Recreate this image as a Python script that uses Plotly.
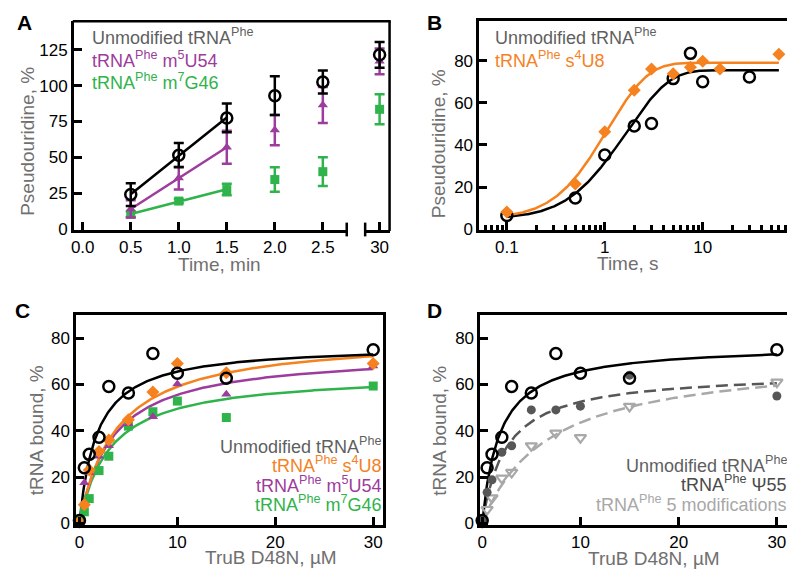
import numpy as np
import plotly.graph_objects as go

W, H = 795, 579
OFF = 8  # page body margin of the browser
FONT = "Liberation Sans, Arial, Helvetica, sans-serif"

# ---------------- Data ----------------
# Panel A: pseudouridine formation, multiple turnover (time, min)
a_time = [0.5, 1.0, 1.5, 2.0, 2.5]
a_time_long = [30]
a_unmod = [24, 51.5, 77.5, 93, 102.5]
a_unmod_err = [8, 8.5, 10, 13.5, 8]
a_unmod_30 = [121.5]
a_unmod_30_err = [9]
a_m5u54 = [14, 35.5, 57, 69, 86.5]
a_m5u54_err = [6, 8, 11.5, 10.5, 12.5]
a_m5u54_30 = [117]
a_m5u54_30_err = [9]
a_m7g46 = [10.3, 19.5, 27.5, 34.5, 40]
a_m7g46_err = [2, 1.5, 4, 8.5, 10]
a_m7g46_30 = [83.5]
a_m7g46_30_err = [10.5]

# Panel B: single turnover (time, s)
b_time_unmod = [0.1, 0.5, 1, 2, 3, 5, 7.5, 10, 30]
b_unmod = [6.5, 14.8, 35.2, 49, 50.2, 71.5, 83.5, 70, 72.3]
b_time_s4u8 = [0.1, 0.5, 1, 2, 3, 5, 7.5, 10, 15, 60]
b_s4u8 = [8.1, 21.4, 46.3, 66, 76.1, 73.8, 76.9, 79.7, 76.1, 83.1]
# fitted two-step parameters (y0, amplitude, k1, k2)
b_fit_unmod = (5.0, 70.5, 0.6, 5.0)
b_fit_s4u8 = (5.0, 74.0, 1.0, 5.0)

# Panels C and D: binding (TruB D48N, uM)
conc = [0, 0.5, 1, 2, 3, 5, 7.5, 10, 15, 30]
c_unmod = [1.2, 24, 29.8, 37.2, 59.1, 56.3, 73.3, 64.8, 62.7, 75]
c_s4u8 = [0.5, 8, 23, 31, 36, 44.7, 56.7, 69, 65, 69]
c_m5u54 = [1, 17.5, 22, 29, 33.5, 43, 46, 60.2, 55.8, 68]
c_m7g46 = [1.2, 5, 10.7, 22.8, 29, 42, 48.2, 52.8, 45.7, 59.3]
d_psi55 = [1.5, 13.4, 18.8, 30.7, 33.5, 49, 49, 50.6, 64, 55]
d_5mod = [0.5, 6, 11, 19.5, 22, 33.5, 39, 37, 50.5, 61]
# fitted hyperbola parameters (Bmax, Kd)
fit_unmod = (77.3, 1.79)
fit_s4u8 = (81.2, 3.75)
fit_m5u54 = (74.0, 3.33)
fit_m7g46 = (64.9, 3.11)
fit_psi55 = (65.5, 2.47)
fit_5mod = (72.8, 6.72)

# ---------------- Colours ----------------
BLACK = "#000000"
PURPLE = "#9c3c9c"
GREEN = "#2fb34b"
ORANGE = "#f5821f"
DGRAY = "#575757"
LGRAY = "#a8a8a8"
TXTGRAY = "#5f5f5f"
TITLEGRAY = "#707070"


def px(x):
    return (x - OFF) / W


def py(y):
    return 1 - (y - OFF) / H


def two_step(t, p):
    y0, amp, k1, k2 = p
    t = np.asarray(t, dtype=float)
    return y0 + amp * (1 - (k2 * np.exp(-k1 * t) - k1 * np.exp(-k2 * t)) / (k2 - k1))


def hyper(x, p):
    bmax, kd = p
    x = np.asarray(x, dtype=float)
    return bmax * x / (kd + x)


fig = go.Figure()

# ---------- Panel A ----------
for ys, col in [(a_unmod, BLACK), (a_m5u54, PURPLE), (a_m7g46, GREEN)]:
    coef = np.polyfit(a_time[:3], ys[:3], 1)
    xl = np.array([a_time[0], a_time[2]])
    fig.add_trace(go.Scatter(x=xl, y=np.polyval(coef, xl), mode="lines",
                             line=dict(color=col, width=2.5), xaxis="x", yaxis="y",
                             showlegend=False, hoverinfo="skip"))

a_series = [
    (a_m7g46, a_m7g46_err, a_m7g46_30, a_m7g46_30_err, GREEN, "square", 9, 0),
    (a_m5u54, a_m5u54_err, a_m5u54_30, a_m5u54_30_err, PURPLE, "triangle-up", 9, 0),
    (a_unmod, a_unmod_err, a_unmod_30, a_unmod_30_err, BLACK, "circle-open", 11, 2.5),
]
for ys, es, y30, e30, col, sym, sz, lw in a_series:
    mk = dict(symbol=sym, size=sz, color=col, line=dict(color=col, width=lw))
    eb = dict(type="data", array=es, color=col, thickness=2.5, width=5)
    fig.add_trace(go.Scatter(x=a_time, y=ys, mode="markers", marker=mk, error_y=eb,
                             xaxis="x", yaxis="y", showlegend=False, cliponaxis=False))
    eb30 = dict(type="data", array=e30, color=col, thickness=2.5, width=5)
    fig.add_trace(go.Scatter(x=a_time_long, y=y30, mode="markers", marker=mk, error_y=eb30,
                             xaxis="x2", yaxis="y", showlegend=False, cliponaxis=False))

# ---------- Panel B ----------
tt = np.logspace(-1, np.log10(60), 300)
fig.add_trace(go.Scatter(x=tt, y=two_step(tt, b_fit_unmod), mode="lines",
                         line=dict(color=BLACK, width=2.5), xaxis="x3", yaxis="y3",
                         showlegend=False, hoverinfo="skip"))
fig.add_trace(go.Scatter(x=tt, y=two_step(tt, b_fit_s4u8), mode="lines",
                         line=dict(color=ORANGE, width=2.5), xaxis="x3", yaxis="y3",
                         showlegend=False, hoverinfo="skip"))
fig.add_trace(go.Scatter(x=b_time_unmod, y=b_unmod, mode="markers",
                         marker=dict(symbol="circle-open", size=11, color=BLACK,
                                     line=dict(color=BLACK, width=2.5)),
                         xaxis="x3", yaxis="y3", showlegend=False, cliponaxis=False))
fig.add_trace(go.Scatter(x=b_time_s4u8, y=b_s4u8, mode="markers",
                         marker=dict(symbol="diamond", size=10, color=ORANGE),
                         xaxis="x3", yaxis="y3", showlegend=False, cliponaxis=False))

# ---------- Panel C ----------
xx = np.linspace(0, 30, 400)
for p, col in [(fit_m7g46, GREEN), (fit_m5u54, PURPLE), (fit_s4u8, ORANGE), (fit_unmod, BLACK)]:
    fig.add_trace(go.Scatter(x=xx, y=hyper(xx, p), mode="lines",
                             line=dict(color=col, width=2.5), xaxis="x4", yaxis="y4",
                             showlegend=False, hoverinfo="skip"))
for ys, col, sym, sz, lw in [(c_m7g46, GREEN, "square", 9, 0),
                             (c_m5u54, PURPLE, "triangle-up", 9, 0),
                             (c_s4u8, ORANGE, "diamond", 10, 0),
                             (c_unmod, BLACK, "circle-open", 11, 2.5)]:
    fig.add_trace(go.Scatter(x=conc, y=ys, mode="markers",
                             marker=dict(symbol=sym, size=sz, color=col,
                                         line=dict(color=col, width=lw)),
                             xaxis="x4", yaxis="y4", showlegend=False, cliponaxis=False))

# ---------- Panel D ----------
fig.add_trace(go.Scatter(x=xx, y=hyper(xx, fit_5mod), mode="lines",
                         line=dict(color=LGRAY, width=2.5, dash="12px,6px"), xaxis="x5", yaxis="y5",
                         showlegend=False, hoverinfo="skip"))
fig.add_trace(go.Scatter(x=xx, y=hyper(xx, fit_psi55), mode="lines",
                         line=dict(color=DGRAY, width=2.5, dash="12px,6px"), xaxis="x5", yaxis="y5",
                         showlegend=False, hoverinfo="skip"))
fig.add_trace(go.Scatter(x=xx, y=hyper(xx, fit_unmod), mode="lines",
                         line=dict(color=BLACK, width=2.5), xaxis="x5", yaxis="y5",
                         showlegend=False, hoverinfo="skip"))
for ys, col, sym, sz, lw in [(d_5mod, LGRAY, "triangle-down-open", 10, 2.2),
                             (d_psi55, DGRAY, "circle", 9, 0),
                             (c_unmod, BLACK, "circle-open", 11, 2.5)]:
    fig.add_trace(go.Scatter(x=conc, y=ys, mode="markers",
                             marker=dict(symbol=sym, size=sz, color=col,
                                         line=dict(color=col, width=lw)),
                             xaxis="x5", yaxis="y5", showlegend=False, cliponaxis=False))

# ---------------- Axes ----------------
tickfont = dict(family=FONT, size=17, color="black")
common = dict(showgrid=False, zeroline=False, showline=True, linecolor="black", linewidth=2.5,
              ticks="inside", ticklen=8, tickwidth=2.5, tickcolor="black", tickfont=tickfont)

a_ylo, a_yhi = py(233.3), py(21.5)
c_ylo, c_yhi = py(532.7), py(320)
RIGHT = px(795)

layout = dict(
    width=W, height=H, margin=dict(l=0, r=0, t=0, b=0),
    plot_bgcolor="white", paper_bgcolor="white", font=dict(family=FONT),
    xaxis=dict(domain=[px(71), px(345.5)], range=[-0.0934, 2.754], anchor="y",
               tickvals=[0, 0.5, 1.0, 1.5, 2.0, 2.5], tickformat=".1f", **common),
    xaxis2=dict(domain=[px(363), px(388)], range=[29.4, 30.4], anchor="y",
                tickvals=[30], **common),
    yaxis=dict(domain=[a_ylo, a_yhi], range=[-0.55, 144.9], anchor="x",
               tickvals=[0, 25, 50, 75, 100, 125], **common),
    xaxis3=dict(domain=[px(478), RIGHT], type="log", range=[-1.282, 1.943], anchor="y3",
                tickvals=[0.1, 1, 10], ticktext=["0.1", "1", "10"], mirror=True,
                minor=dict(tickvals=[0.06, 0.07, 0.08, 0.09, 0.2, 0.3, 0.4, 0.5, 0.6, 0.7, 0.8, 0.9,
                                     2, 3, 4, 5, 6, 7, 8, 9, 20, 30, 40, 50, 60, 70, 80],
                           ticks="inside", ticklen=5, tickwidth=2.5, tickcolor="black"),
                **common),
    yaxis3=dict(domain=[py(233.3), py(20.7)], range=[-0.3, 99.1], anchor="x3",
                tickvals=[0, 20, 40, 60, 80], **common),
    xaxis4=dict(domain=[px(73.3), px(381.7)], range=[-0.346, 31.03], anchor="y4",
                tickvals=[0, 10, 20, 30], mirror=True, **common),
    yaxis4=dict(domain=[c_ylo, c_yhi], range=[-0.5, 89.9], anchor="x4",
                tickvals=[0, 20, 40, 60, 80], mirror=True, **common),
    xaxis5=dict(domain=[px(479), RIGHT], range=[-0.2, 31.85], anchor="y5",
                tickvals=[0, 10, 20, 30], mirror=True, **common),
    yaxis5=dict(domain=[c_ylo, c_yhi], range=[-0.5, 89.9], anchor="x5",
                tickvals=[0, 20, 40, 60, 80], **common),
)
fig.update_layout(**layout)

# Frame for panel A (top and right) and break caps
shapes = [
    dict(type="line", xref="paper", yref="paper", x0=px(70), x1=px(389.2), y0=py(21.5), y1=py(21.5),
         line=dict(color="black", width=2.5)),
    dict(type="line", xref="paper", yref="paper", x0=px(388), x1=px(388), y0=py(21.5), y1=py(234.5),
         line=dict(color="black", width=2.5)),
    dict(type="line", xref="paper", yref="paper", x0=px(345), x1=px(345), y0=py(226), y1=py(240),
         line=dict(color="black", width=2.5)),
    dict(type="line", xref="paper", yref="paper", x0=px(363.5), x1=px(363.5), y0=py(226), y1=py(240),
         line=dict(color="black", width=2.5)),
]
fig.update_layout(shapes=shapes)

ann = []


def text(x, y, s, color, size=18, xanchor="left", bold=False, angle=0):
    ann.append(dict(x=px(x), y=py(y), xref="paper", yref="paper", text=(f"<b>{s}</b>" if bold else s),
                    showarrow=False, xanchor=xanchor, yanchor="middle", textangle=angle,
                    font=dict(family=FONT, size=size, color=color)))


# panel letters
text(22, 23, "A", "black", size=21, xanchor="center", bold=True)
text(433, 23, "B", "black", size=21, xanchor="center", bold=True)
text(20, 315, "C", "black", size=21, xanchor="center", bold=True)
text(433, 315, "D", "black", size=21, xanchor="center", bold=True)

# axis titles
TS = 19
text(217, 269, "Time, min", TITLEGRAY, size=TS, xanchor="center")
text(25, 143, "Pseudouridine, %", TITLEGRAY, size=TS, xanchor="center", angle=-90)
text(627, 268, "Time, s", TITLEGRAY, size=TS, xanchor="center")
text(437, 146, "Pseudouridine, %", TITLEGRAY, size=TS, xanchor="center", angle=-90)
text(269, 566, "TruB D48N, µM", TITLEGRAY, size=TS, xanchor="center")
text(33, 437, "tRNA bound, %", TITLEGRAY, size=TS, xanchor="center", angle=-90)
text(653, 567, "TruB D48N, µM", TITLEGRAY, size=TS, xanchor="center")
text(438, 437, "tRNA bound, %", TITLEGRAY, size=TS, xanchor="center", angle=-90)

PHE = "tRNA<sup>Phe</sup>"
# legend A
text(87, 37, "Unmodified " + PHE, TXTGRAY)
text(87, 60, PHE + " m<sup>5</sup>U54", PURPLE)
text(87, 83, PHE + " m<sup>7</sup>G46", GREEN)
# legend B
text(492, 37, "Unmodified " + PHE, TXTGRAY)
text(492, 60, PHE + " s<sup>4</sup>U8", ORANGE)
# legend C
text(381, 452, "Unmodified " + PHE, TXTGRAY, xanchor="right")
text(381, 472, PHE + " s<sup>4</sup>U8", ORANGE, xanchor="right")
text(381, 492, PHE + " m<sup>5</sup>U54", PURPLE, xanchor="right")
text(381, 511, PHE + " m<sup>7</sup>G46", GREEN, xanchor="right")
# legend D
text(789, 472, "Unmodified " + PHE, TXTGRAY, xanchor="right")
text(789, 491, PHE + " Ψ55", "#4a4a4a", xanchor="right")
text(789, 511, PHE + " 5 modifications", LGRAY, xanchor="right")

fig.update_layout(annotations=ann)
fig.write_html("out.html")
